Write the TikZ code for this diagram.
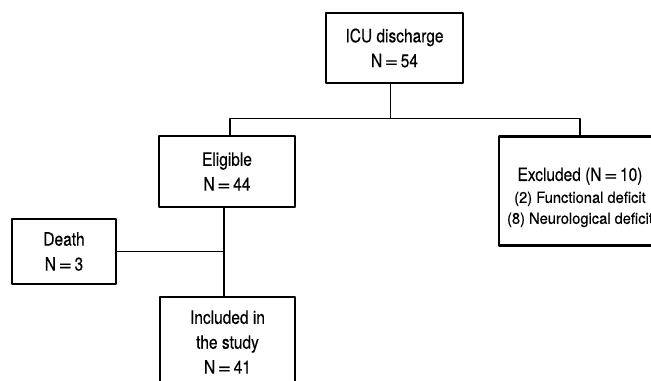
\documentclass[tikz,border=0pt]{standalone}
\usepackage{fontspec}
\setmainfont{TeX Gyre Heros}[FakeStretch=0.84,FakeBold=0.4]
\newfontfamily\notefont{TeX Gyre Heros}[FakeStretch=0.95,FakeBold=0.35]
\usetikzlibrary{positioning,calc}

\newcommand{\eqsign}{\kern2.5bp\scalebox{1.5}[1]{=}\kern2.5bp}

\begin{document}
\begin{tikzpicture}[x=1bp,y=-1bp,line join=bevel,
    flowbox/.style={draw,line width=2.6bp,inner sep=0pt,align=center,
      font=\fontsize{18.5}{25}\selectfont},
    link/.style={line width=1.6bp}]
  \useasboundingbox (0,0) rectangle (651,380);
  \clip (0,0) rectangle (651,380);
  %%
  % Node: icu
  \node[flowbox,minimum width=137bp,minimum height=70bp] (icu) at (394.5,48)
    {ICU discharge\\N\eqsign54};
  % Node: eligible
  \node[flowbox,minimum width=136bp,minimum height=71bp] (eligible) at (227,171.5)
    {Eligible\\N\eqsign44};
  % Node: excluded
  \node[flowbox,minimum width=162bp,minimum height=109bp,text height=69bp,
        font=\fontsize{18.5}{19}\selectfont] (excluded) at (580,191)
    {Excluded (N\eqsign10)\\[3pt]
     {\notefont\fontsize{15.5}{17}\selectfont (2) Functional deficit}\\[2pt]
     {\notefont\fontsize{15.5}{17}\selectfont (8) Neurological deficit}};
  % Node: death
  \node[flowbox,minimum width=104bp,minimum height=65bp] (death) at (64,251.5)
    {Death\\N\eqsign3};
  % Node: included
  \node[flowbox,minimum width=135bp,minimum height=90bp] (included) at (227.5,342)
    {Included in\\the study\\N\eqsign41};
  %%
  % Edge: icu -> eligible, excluded
  \draw[link] (icu.south) ++(-4,0) -- ++(0,34) coordinate (fork);
  \draw[link] (eligible.north) ++(3,0) |- (fork) -| (excluded.north);
  % Edge: eligible -> included
  \draw[link] (eligible.south) ++(-3,0) coordinate (stem) -- (stem |- included.north);
  % Edge: death -> stem
  \draw[link] (death.east) -- (death.east -| stem);
  %
\end{tikzpicture}
\end{document}
